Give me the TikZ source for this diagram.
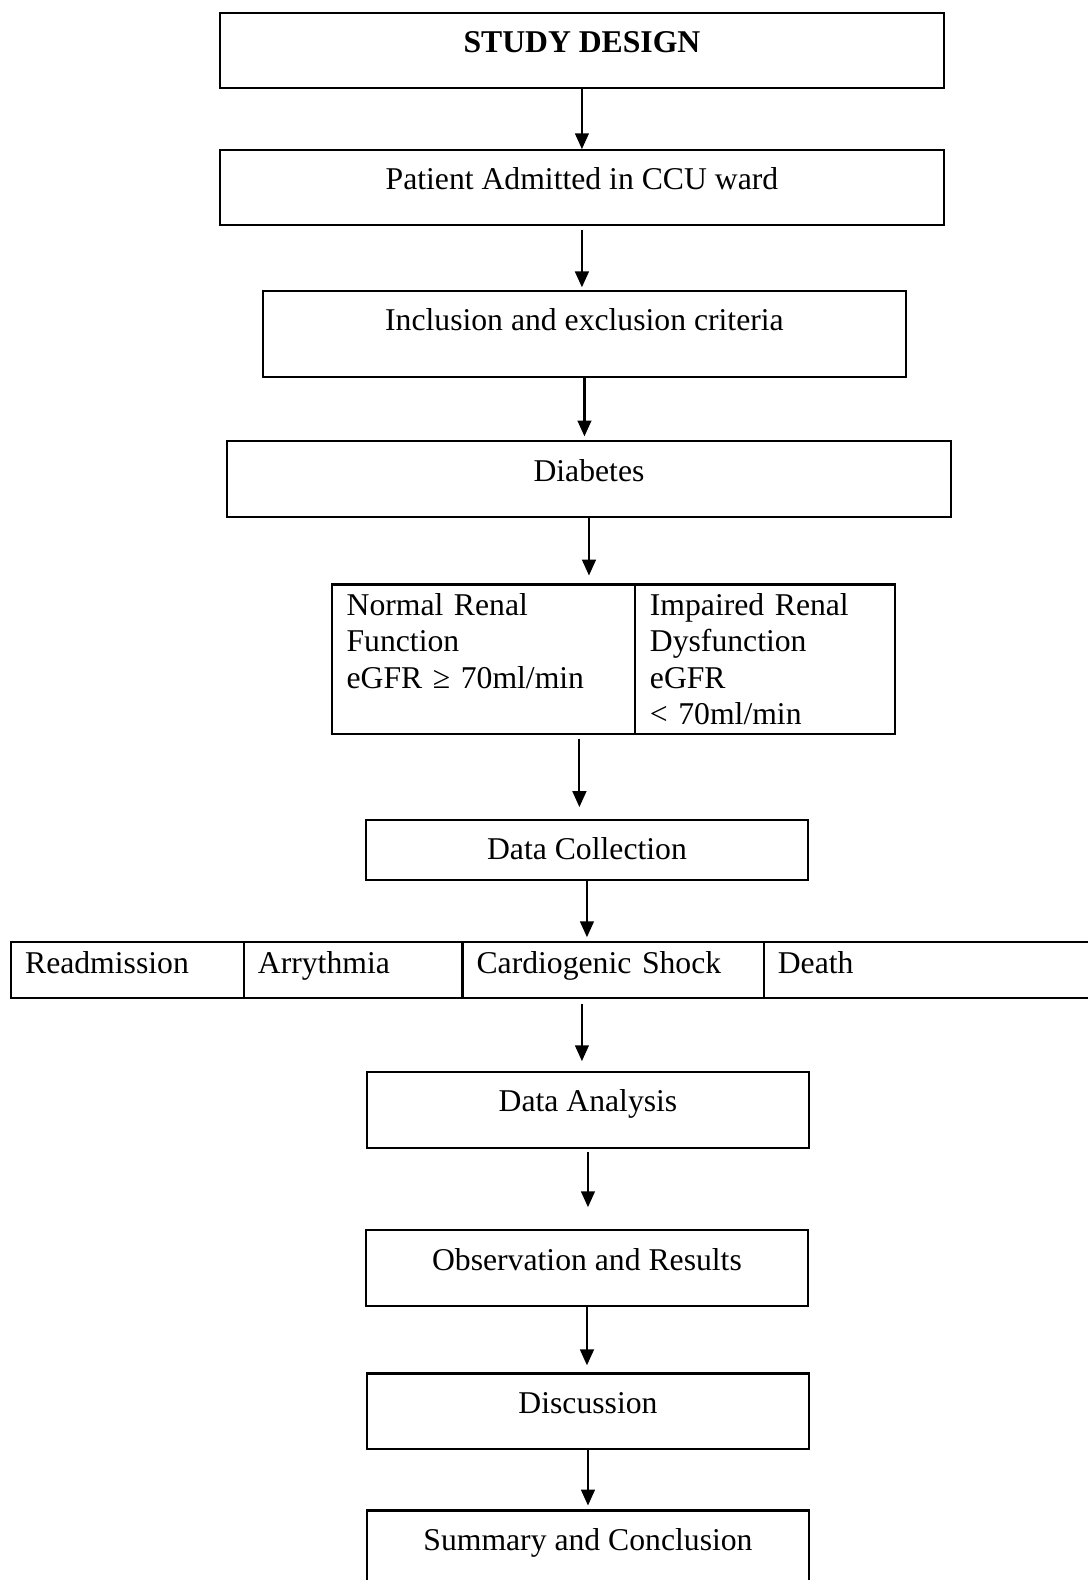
\documentclass[tikz,border=0pt]{standalone}
\usepackage{fontspec}
\setmainfont{Liberation Serif}
\usetikzlibrary{arrows.meta,positioning,calc}

\begin{document}
\begin{tikzpicture}[x=0.3816pt,y=-0.3816pt,
		every node/.style={font=\fontsize{12}{13.8}\selectfont},
		blk/.style={draw=black,thick,inner xsep=0pt,inner ysep=0pt,text height=15pt,anchor=north},
		cell/.style={draw=black,thick,inner xsep=5.3pt,inner ysep=0pt,align=left,anchor=north west},
		arr/.style={thick,-{Triangle[length=6pt,width=5.2pt]}}]
	\useasboundingbox (0,0) rectangle (1079,1568);
	\path 	(577.5,12) 	node (design) [blk, minimum width=274.4pt, text depth=13.2pt] {\textbf{STUDY DESIGN}}
			(577.5,148) node (admit) [blk, minimum width=274.4pt, text depth=13.2pt] {Patient Admitted in CCU ward}
			(580,288) 	node (criteria) [blk, minimum width=243.5pt, text depth=17.4pt] {Inclusion and exclusion criteria}
			(584.5,437) node (diabetes) [blk, minimum width=274.4pt, text depth=13.6pt] {Diabetes};
	% renal groups
	\path 	(328,579) 	node (normal) [cell, inner xsep=5.7pt, text width=103.5pt, minimum height=56.5pt] {Normal Renal\\ Function\\ eGFR ≥ 70ml/min\\ \mbox{}}
			(629,579) 	node (impaired) [cell, inner xsep=5.7pt, text width=87pt, minimum height=56.5pt] {Impaired Renal\\ Dysfunction\\ eGFR\\ < 70ml/min};
	\path 	(582.5,813) node (collect) [blk, minimum width=167.5pt, text depth=7.5pt] {Data Collection};
	% outcomes
	\path 	(10,934) 	node (readmit) [cell, text width=77.5pt, text height=11.8pt, text depth=9.2pt] {Readmission}
			(241,934) 	node (arrhyth) [cell, text width=72.2pt, text height=11.8pt, text depth=9.2pt] {Arrythmia}
			(458,934) 	node (shock) [cell, text width=103.5pt, text height=11.8pt, text depth=9.2pt] {Cardiogenic Shock}
			(757,934) 	node (death) [cell, text width=124.1pt, text height=11.8pt, text depth=9.2pt] {Death};
	\path 	(583.5,1063) node (analysis) [blk, minimum width=167.5pt, text depth=13.6pt] {Data Analysis}
			(582.5,1220) node (observe) [blk, minimum width=167.5pt, text depth=13.6pt] {Observation and Results}
			(583.5,1362) node (discuss) [blk, minimum width=167.5pt, text depth=13.6pt] {Discussion}
			(583.5,1498) node (summary) [blk, minimum width=167.5pt, text depth=14.4pt] {Summary and Conclusion};
	\draw [arr] (design.south) -- (design.south |- admit.north);
	\draw [arr, shorten <=1.5pt, shorten >=1.1pt] (admit.south) -- (admit.south |- criteria.north);
	\draw [arr, shorten >=1.5pt] (criteria.south) -- (criteria.south |- diabetes.north);
	\draw [arr, shorten >=3pt] (diabetes.south) -- (diabetes.south |- normal.north);
	\draw [arr, shorten <=1.5pt, shorten >=4.6pt] ($(normal.south -| collect.north)+(-7.5,0)$) -- ($(collect.north)+(-7.5,0)$);
	\draw [arr, shorten >=1.5pt] (collect.south) -- (collect.south |- shock.north);
	\draw [arr, shorten <=1.9pt, shorten >=3.8pt] ($(shock.south -| analysis.north)+(-6,0)$) -- ($(analysis.north)+(-6,0)$);
	\draw [arr, shorten <=1.1pt, shorten >=8.4pt] (analysis.south) -- (analysis.south |- observe.north);
	\draw [arr, shorten >=2.7pt] (observe.south) -- (observe.south |- discuss.north);
	\draw [arr, shorten >=1.5pt] (discuss.south) -- (discuss.south |- summary.north);
\end{tikzpicture}
\end{document}
